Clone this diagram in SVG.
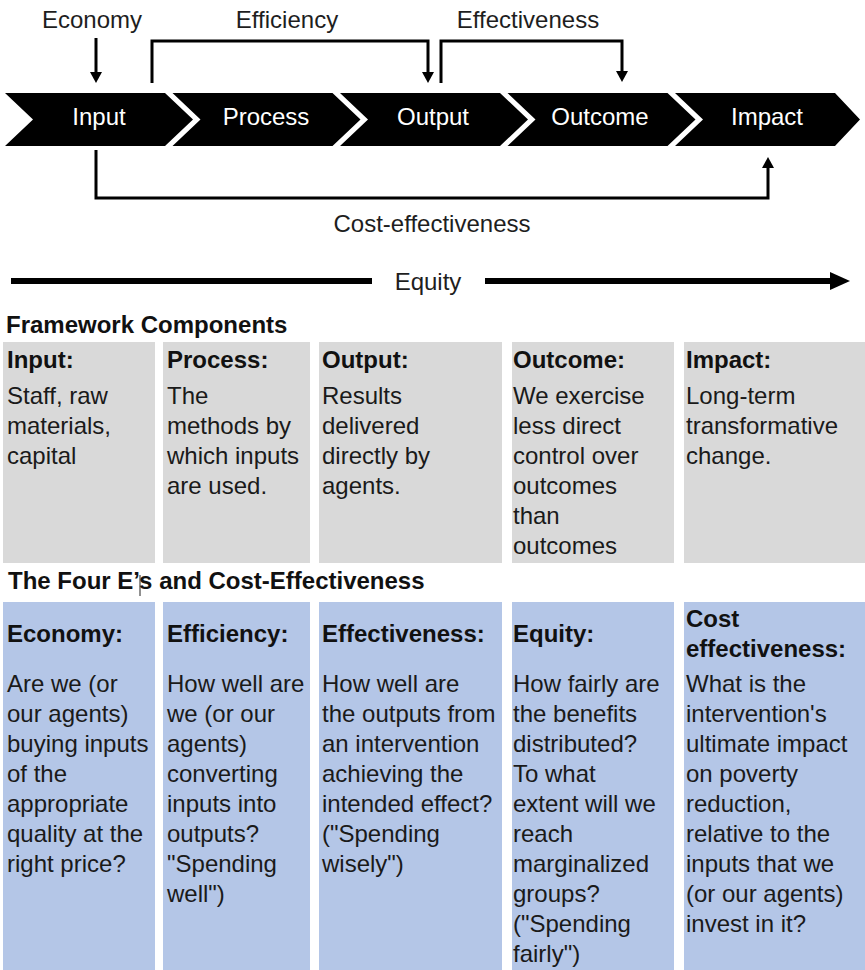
<svg xmlns="http://www.w3.org/2000/svg" width="865" height="970" viewBox="0 0 865 970">
<defs>
<style>
text{font-family:"Liberation Sans",Arial,sans-serif;}
.lbl{font-size:24px;fill:#1e1e1e;}
.chev{fill:#000;}
.ctxt{font-size:24px;fill:#fff;text-anchor:middle;}
.conn{fill:none;stroke:#000;stroke-width:3;}
.eq{fill:none;stroke:#000;stroke-width:6;}
.gray{fill:#d9d9d9;}
.blue{fill:#b4c6e7;}
.hd{font-size:24px;font-weight:bold;fill:#111;}
.body{font-size:24px;fill:#1a1a1a;}
</style>
<marker id="ah" markerUnits="userSpaceOnUse" viewBox="0 0 11 12" refX="3" refY="6" markerWidth="11" markerHeight="12" orient="auto">
<path d="M0,0 L11,6 L0,12 z" fill="#000"/>
</marker>
<marker id="ahb" markerUnits="userSpaceOnUse" viewBox="0 0 20 18" refX="4" refY="9" markerWidth="20" markerHeight="18" orient="auto">
<path d="M0,0 L20,9 L0,18 z" fill="#000"/>
</marker>
</defs>
<rect width="865" height="970" fill="#fff"/>

<g id="chevrons">
<g id="input-chevron"><polygon class="chev" points="5,93 165,93 193,119.5 165,146 5,146 33,119.5"/><text class="ctxt" x="99" y="125">Input</text></g>
<g id="process-chevron"><polygon class="chev" points="172.5,93 332.5,93 360.5,119.5 332.5,146 172.5,146 200.5,119.5"/><text class="ctxt" x="266" y="125">Process</text></g>
<g id="output-chevron"><polygon class="chev" points="340,93 500,93 528,119.5 500,146 340,146 368,119.5"/><text class="ctxt" x="433" y="125">Output</text></g>
<g id="outcome-chevron"><polygon class="chev" points="507.5,93 667.5,93 695.5,119.5 667.5,146 507.5,146 535.5,119.5"/><text class="ctxt" x="600" y="125">Outcome</text></g>
<g id="impact-chevron"><polygon class="chev" points="675,93 835,93 860,119.5 835,146 675,146 703,119.5"/><text class="ctxt" x="767" y="125">Impact</text></g>
</g>

<g id="labels">
<text id="economy-label" class="lbl" x="92" y="28" text-anchor="middle">Economy</text>
<text id="efficiency-label" class="lbl" x="287" y="28" text-anchor="middle">Efficiency</text>
<text id="effectiveness-label" class="lbl" x="528" y="28" text-anchor="middle">Effectiveness</text>
<text id="cost-label" class="lbl" x="432" y="232" text-anchor="middle">Cost-effectiveness</text>
<text id="equity-label" class="lbl" x="428" y="290" text-anchor="middle">Equity</text>
</g>

<g id="connectors">
<path class="conn" d="M96,38 V75" marker-end="url(#ah)"/>
<path class="conn" d="M152,83 V41 H428 V75" marker-end="url(#ah)"/>
<path class="conn" d="M441,83 V41 H622 V74" marker-end="url(#ah)"/>
<path class="conn" d="M96,150 V198 H768 V165" marker-end="url(#ah)"/>
<path class="eq" d="M11,281 H372"/>
<path class="eq" d="M485,281 H834" marker-end="url(#ahb)"/>
</g>

<text id="fw-title" class="hd" x="6" y="333">Framework Components</text>

<g id="input-box"><rect class="gray" x="3" y="342" width="152" height="221"/>
<text class="hd" x="7" y="368">Input:</text>
<text class="body" y="404"><tspan x="7">Staff, raw</tspan><tspan x="7" dy="30">materials,</tspan><tspan x="7" dy="30">capital</tspan></text></g>

<g id="process-box"><rect class="gray" x="163" y="342" width="147" height="221"/>
<text class="hd" x="167" y="368">Process:</text>
<text class="body" y="404"><tspan x="167">The</tspan><tspan x="167" dy="30">methods by</tspan><tspan x="167" dy="30">which inputs</tspan><tspan x="167" dy="30">are used.</tspan></text></g>

<g id="output-box"><rect class="gray" x="319" y="342" width="183" height="221"/>
<text class="hd" x="322" y="368">Output:</text>
<text class="body" y="404"><tspan x="322">Results</tspan><tspan x="322" dy="30">delivered</tspan><tspan x="322" dy="30">directly by</tspan><tspan x="322" dy="30">agents.</tspan></text></g>

<g id="outcome-box"><rect class="gray" x="512" y="342" width="162" height="221"/>
<text class="hd" x="513" y="368">Outcome:</text>
<text class="body" y="404"><tspan x="513">We exercise</tspan><tspan x="513" dy="30">less direct</tspan><tspan x="513" dy="30">control over</tspan><tspan x="513" dy="30">outcomes</tspan><tspan x="513" dy="30">than</tspan><tspan x="513" dy="30">outcomes</tspan></text></g>

<g id="impact-box"><rect class="gray" x="684" y="342" width="181" height="221"/>
<text class="hd" x="686" y="368">Impact:</text>
<text class="body" y="404"><tspan x="686">Long-term</tspan><tspan x="686" dy="30">transformative</tspan><tspan x="686" dy="30">change.</tspan></text></g>

<text id="fe-title" class="hd" x="8" y="589">The Four E’s and Cost-Effectiveness</text>
<line x1="140" y1="575" x2="140" y2="596" stroke="#222" stroke-width="1"/>

<g id="economy-box"><rect class="blue" x="3" y="602" width="152" height="368"/>
<text class="hd" x="7" y="642">Economy:</text>
<text class="body" y="692"><tspan x="7">Are we (or</tspan><tspan x="7" dy="30">our agents)</tspan><tspan x="7" dy="30">buying inputs</tspan><tspan x="7" dy="30">of the</tspan><tspan x="7" dy="30">appropriate</tspan><tspan x="7" dy="30">quality at the</tspan><tspan x="7" dy="30">right price?</tspan></text></g>

<g id="efficiency-box"><rect class="blue" x="163" y="602" width="147" height="368"/>
<text class="hd" x="167" y="642">Efficiency:</text>
<text class="body" y="692"><tspan x="167">How well are</tspan><tspan x="167" dy="30">we (or our</tspan><tspan x="167" dy="30">agents)</tspan><tspan x="167" dy="30">converting</tspan><tspan x="167" dy="30">inputs into</tspan><tspan x="167" dy="30">outputs?</tspan><tspan x="167" dy="30">"Spending</tspan><tspan x="167" dy="30">well")</tspan></text></g>

<g id="effectiveness-box"><rect class="blue" x="319" y="602" width="183" height="368"/>
<text class="hd" x="322" y="642">Effectiveness:</text>
<text class="body" y="692"><tspan x="322">How well are</tspan><tspan x="322" dy="30">the outputs from</tspan><tspan x="322" dy="30">an intervention</tspan><tspan x="322" dy="30">achieving the</tspan><tspan x="322" dy="30">intended effect?</tspan><tspan x="322" dy="30">("Spending</tspan><tspan x="322" dy="30">wisely")</tspan></text></g>

<g id="equity-box"><rect class="blue" x="512" y="602" width="162" height="368"/>
<text class="hd" x="513" y="642">Equity:</text>
<text class="body" y="692"><tspan x="513">How fairly are</tspan><tspan x="513" dy="30">the benefits</tspan><tspan x="513" dy="30">distributed?</tspan><tspan x="513" dy="30">To what</tspan><tspan x="513" dy="30">extent will we</tspan><tspan x="513" dy="30">reach</tspan><tspan x="513" dy="30">marginalized</tspan><tspan x="513" dy="30">groups?</tspan><tspan x="513" dy="30">("Spending</tspan><tspan x="513" dy="30">fairly")</tspan></text></g>

<g id="cost-effectiveness-box"><rect class="blue" x="684" y="602" width="181" height="368"/>
<text class="hd" y="627"><tspan x="686">Cost</tspan><tspan x="686" dy="30">effectiveness:</tspan></text>
<text class="body" y="692"><tspan x="686">What is the</tspan><tspan x="686" dy="30">intervention's</tspan><tspan x="686" dy="30">ultimate impact</tspan><tspan x="686" dy="30">on poverty</tspan><tspan x="686" dy="30">reduction,</tspan><tspan x="686" dy="30">relative to the</tspan><tspan x="686" dy="30">inputs that we</tspan><tspan x="686" dy="30">(or our agents)</tspan><tspan x="686" dy="30">invest in it?</tspan></text></g>
</svg>
